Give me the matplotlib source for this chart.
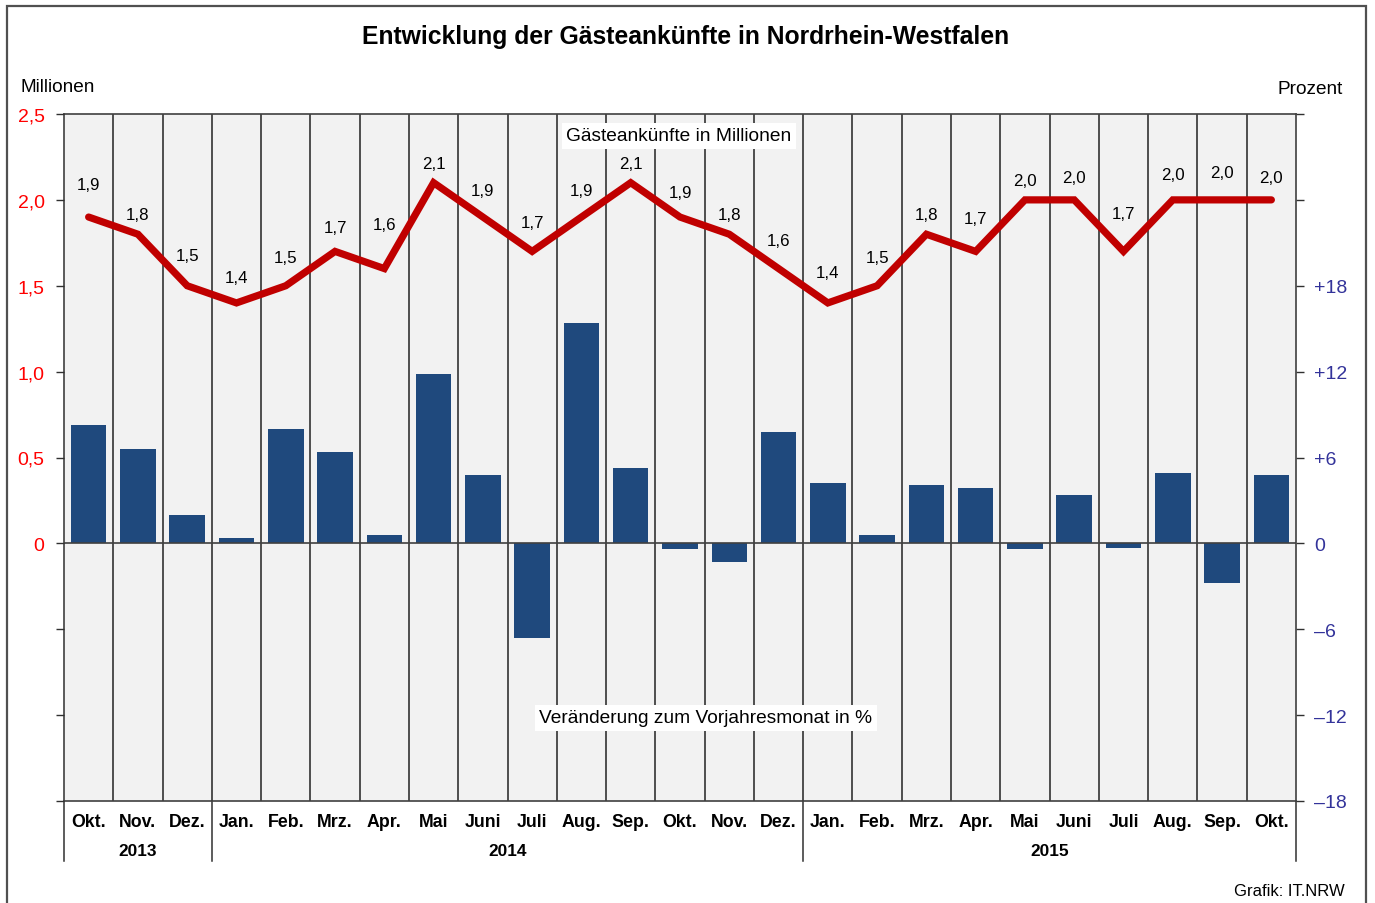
import matplotlib
matplotlib.use("Agg")
import matplotlib.pyplot as plt
from matplotlib.patches import Rectangle
import matplotlib.transforms as mtransforms

plt.rcParams['font.family'] = ['Liberation Sans', 'DejaVu Sans']

# Daten
monate = ['Okt.', 'Nov.', 'Dez.', 'Jan.', 'Feb.', 'Mrz.', 'Apr.', 'Mai', 'Juni', 'Juli',
          'Aug.', 'Sep.', 'Okt.', 'Nov.', 'Dez.', 'Jan.', 'Feb.', 'Mrz.', 'Apr.', 'Mai',
          'Juni', 'Juli', 'Aug.', 'Sep.', 'Okt.']
jahre = ['2013', '2014', '2015']
jahr_grenzen = [-0.5, 2.5, 14.5, 24.5]
ankuenfte = [1.9, 1.8, 1.5, 1.4, 1.5, 1.7, 1.6, 2.1, 1.9, 1.7, 1.9, 2.1, 1.9,
             1.8, 1.6, 1.4, 1.5, 1.8, 1.7, 2.0, 2.0, 1.7, 2.0, 2.0, 2.0]
veraenderung = [8.3, 6.6, 2.0, 0.4, 8.0, 6.4, 0.6, 11.8, 4.8, -6.6, 15.4, 5.3, -0.4,
                -1.3, 7.8, 4.2, 0.6, 4.1, 3.9, -0.4, 3.4, -0.3, 4.9, -2.8, 4.8]

# Abstand der Wertebeschriftung über der Linie (Pixel)
label_abstand = [33, 20, 30, 25, 28, 24, 44, 19, 27, 29, 27, 19, 25,
                 20, 28, 30, 28, 20, 33, 19, 22, 38, 25, 27, 22]

W, H = 1375, 904
fig = plt.figure(figsize=(W / 100, H / 100), dpi=100)
fig.patch.set_facecolor('white')

# Rahmen
fig.patches.append(Rectangle((7 / W, -0.05), (1366 - 7) / W, 1.05 - 7 / H,
                             transform=fig.transFigure, fill=False,
                             edgecolor='#505050', linewidth=1.6))

ax = fig.add_axes([64 / W, 1 - 802 / H, (1296 - 64) / W, (802 - 115) / H])
ax.set_facecolor('#f2f2f2')
x = list(range(len(monate)))

# Balken (Prozent) auf der Hauptachse, Skala rechts
ax.bar(x, veraenderung, width=0.72, color='#1f497d', zorder=3)
ax.set_xlim(-0.5, len(monate) - 0.5)
ax.set_ylim(-18, 30)
ax.axhline(0, color='#404040', linewidth=1.2, zorder=4)
for i in range(len(monate) - 1):
    ax.axvline(i + 0.5, color='#333333', linewidth=1.2, zorder=2)

ax.set_xticks(x)
ax.set_xticklabels(monate, fontweight='bold', fontsize=12.8)
ax.tick_params(axis='x', length=0, pad=9)

for s in ax.spines.values():
    s.set_color('#404040')
    s.set_linewidth(1.2)

# Linie (Millionen) auf der Zwillingsachse, Skala links
ax2 = ax.twinx()
ax2.plot(x, ankuenfte, color='#c00000', linewidth=5.2, solid_capstyle='round',
         solid_joinstyle='miter', zorder=5)
ax2.set_ylim(-1.5, 2.5)
ax2.yaxis.tick_left()
ax2.yaxis.set_label_position('left')
lticks = [-1.5, -1.0, -0.5, 0, 0.5, 1.0, 1.5, 2.0, 2.5]
ax2.set_yticks(lticks)
ax2.set_yticklabels(['' if t < 0 else ('0' if t == 0 else f'{t:.1f}'.replace('.', ','))
                     for t in lticks], color='#ff0000', fontsize=14)
ax2.tick_params(axis='y', direction='out', length=6, width=1, color='#303030', pad=8)
for s in ax2.spines.values():
    s.set_visible(False)

# rechte Skala erst nach twinx setzen
ax.yaxis.tick_right()
ax.yaxis.set_label_position('right')
rticks = list(range(-18, 31, 6))
ax.set_yticks(rticks)
rlabels = []
for t in rticks:
    if t > 18:
        rlabels.append('')
    elif t > 0:
        rlabels.append(f'+{t}')
    elif t < 0:
        rlabels.append(f'\u2013{abs(t)}')
    else:
        rlabels.append('0')
ax.set_yticklabels(rlabels, color='#33339a', fontsize=14)
ax.tick_params(axis='y', direction='out', length=6, width=1, color='#303030', pad=7)

for xi, v, d in zip(x, ankuenfte, label_abstand):
    ax2.annotate(f'{v:.1f}'.replace('.', ','), (xi, v), xytext=(0, d * 0.72),
                 textcoords='offset points', ha='center', va='center', fontsize=12.2)

# Jahresbeschriftung und Trennlinien unterhalb
trans = mtransforms.blended_transform_factory(ax.transData, ax.transAxes)
for g in jahr_grenzen:
    ax.plot([g, g], [0, -60 / 687], transform=trans, color='#303030',
            linewidth=1.1, clip_on=False)
for j, (a, b) in enumerate(zip(jahr_grenzen[:-1], jahr_grenzen[1:])):
    ax.text((a + b) / 2, -50 / 687, jahre[j], transform=trans, ha='center',
            va='center', fontweight='bold', fontsize=12.4)

# Legendentexte im Diagramm
ax.text(0.499, 1 - 22 / 687, 'Gästeankünfte in Millionen', transform=ax.transAxes,
        ha='center', va='center', fontsize=13.8, zorder=6,
        bbox=dict(facecolor='white', edgecolor='none', pad=3))
ax.text(0.521, 1 - 604 / 687, 'Veränderung zum Vorjahresmonat in %',
        transform=ax.transAxes, ha='center', va='center', fontsize=13.8, zorder=6,
        bbox=dict(facecolor='white', edgecolor='none', pad=3))

fig.text(686 / W, 1 - 37 / H, 'Entwicklung der Gästeankünfte in Nordrhein-Westfalen',
         ha='center', va='center', fontsize=17.8, fontweight='bold')
fig.text(21 / W, 1 - 87 / H, 'Millionen', ha='left', va='center', fontsize=13.7)
fig.text(1343 / W, 1 - 89 / H, 'Prozent', ha='right', va='center', fontsize=13.7)
fig.text(1345 / W, 1 - 892 / H, 'Grafik: IT.NRW', ha='right', va='center', fontsize=12)

fig.savefig('out.png', dpi=100)
